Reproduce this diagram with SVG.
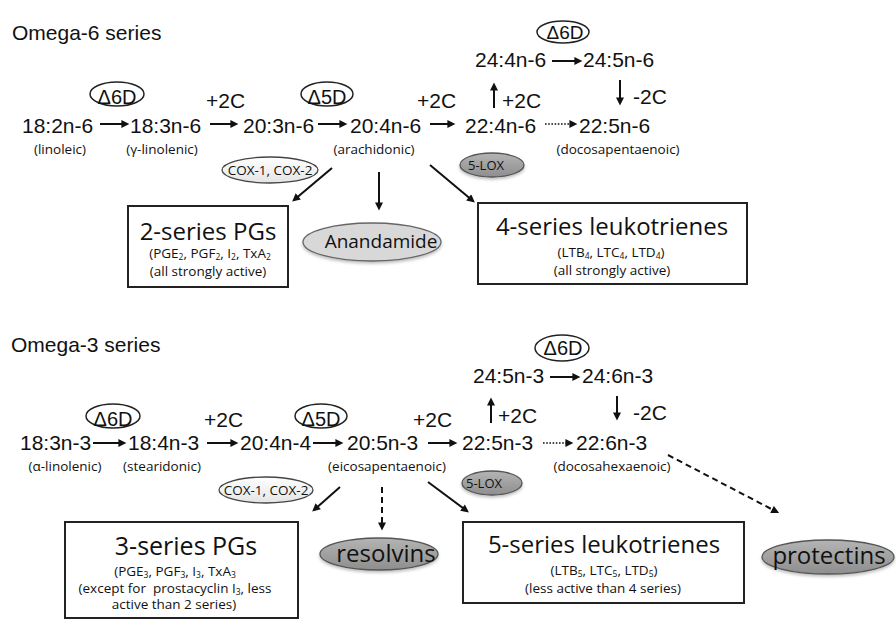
<svg xmlns="http://www.w3.org/2000/svg" width="896" height="622" viewBox="0 0 896 622">
<style>
.big{font-family:"Liberation Sans",Arial,sans-serif;font-size:21px;fill:#111}
.dl{font-family:"Liberation Sans",Arial,sans-serif;font-size:20px;fill:#111;text-anchor:middle}
.ttl{font-family:"Liberation Sans",Arial,sans-serif;font-size:21px;fill:#111}
.sm{font-family:"Open Sans",sans-serif;font-size:13.5px;fill:#111;text-anchor:middle}
.hd{font-family:"Open Sans",sans-serif;font-size:24px;fill:#111;text-anchor:middle}
.s{font-size:8.5px}
.ln{stroke:#111;stroke-width:2;fill:none}
.dot{stroke:#111;stroke-width:1.6;fill:none;stroke-dasharray:1.6 1.6}
.dash{stroke:#111;stroke-width:2;fill:none;stroke-dasharray:6 4}
.box{fill:#fff;stroke:#222;stroke-width:2}
.delta{fill:#fff;stroke:#222;stroke-width:1.5}
.cox{fill:url(#gl);stroke:#444;stroke-width:1.3}
.grey{fill:url(#gd);stroke:#555;stroke-width:1.3;filter:url(#sh)}
.lgrey{fill:#d8d8d8;stroke:#666;stroke-width:1.3;filter:url(#sh)}
</style>
<defs>
<marker id="ah" viewBox="0 0 10 10" markerUnits="userSpaceOnUse" markerWidth="9" markerHeight="8" refX="7" refY="5" orient="auto">
<path d="M0,0 L10,5 L0,10 z" fill="#111"/>
</marker>
<linearGradient id="gl" x1="0" y1="0" x2="0" y2="1"><stop offset="0" stop-color="#ffffff"/><stop offset="1" stop-color="#e4e4e4"/></linearGradient>
<linearGradient id="gd" x1="0" y1="0" x2="0" y2="1"><stop offset="0" stop-color="#b4b4b4"/><stop offset="1" stop-color="#8e8e8e"/></linearGradient>
<filter id="sh" x="-20%" y="-30%" width="140%" height="170%"><feDropShadow dx="0" dy="2" stdDeviation="1.5" flood-color="#000" flood-opacity="0.25"/></filter>
</defs>
<rect width="896" height="622" fill="#fff"/>

<text class="ttl" x="12" y="40">Omega-6 series</text>
<text class="ttl" x="11" y="352">Omega-3 series</text>

<g id="connectors">
<line class="ln" x1="100" y1="124" x2="127" y2="124" marker-end="url(#ah)"/>
<line class="ln" x1="210" y1="124" x2="236" y2="124" marker-end="url(#ah)"/>
<line class="ln" x1="318" y1="124" x2="345" y2="124" marker-end="url(#ah)"/>
<line class="ln" x1="430" y1="124" x2="453" y2="124" marker-end="url(#ah)"/>
<line class="dot" x1="545" y1="124" x2="575" y2="124" marker-end="url(#ah)"/>
<line class="ln" x1="552" y1="61" x2="580" y2="61" marker-end="url(#ah)"/>
<line class="ln" x1="494" y1="108" x2="494" y2="85" marker-end="url(#ah)"/>
<line class="ln" x1="620" y1="80" x2="620" y2="103" marker-end="url(#ah)"/>
<line class="ln" x1="332" y1="168" x2="294" y2="200" marker-end="url(#ah)"/>
<line class="ln" x1="379" y1="172" x2="379" y2="208" marker-end="url(#ah)"/>
<line class="ln" x1="430" y1="165" x2="473" y2="201" marker-end="url(#ah)"/>
<line class="ln" x1="93" y1="443" x2="124" y2="443" marker-end="url(#ah)"/>
<line class="ln" x1="207" y1="443" x2="236" y2="443" marker-end="url(#ah)"/>
<line class="ln" x1="313" y1="443" x2="341" y2="443" marker-end="url(#ah)"/>
<line class="ln" x1="428" y1="443" x2="455" y2="443" marker-end="url(#ah)"/>
<line class="dot" x1="543" y1="443" x2="571" y2="443" marker-end="url(#ah)"/>
<line class="ln" x1="550" y1="377" x2="578" y2="377" marker-end="url(#ah)"/>
<line class="ln" x1="491" y1="423" x2="491" y2="400" marker-end="url(#ah)"/>
<line class="ln" x1="617" y1="396" x2="617" y2="418" marker-end="url(#ah)"/>
<line class="ln" x1="340" y1="487" x2="314" y2="510" marker-end="url(#ah)"/>
<line class="dash" x1="382" y1="487" x2="382" y2="528" marker-end="url(#ah)"/>
<line class="ln" x1="428" y1="482" x2="467" y2="511" marker-end="url(#ah)"/>
<line class="dash" x1="668" y1="455" x2="777" y2="512" marker-end="url(#ah)"/>
</g>

<g id="o6-labels">
<text class="big" x="417" y="108">+2C</text>
<text class="big" x="206" y="108">+2C</text>
<text class="big" x="502" y="108">+2C</text>
<text class="big" x="633" y="104">-2C</text>
</g>
<g id="o6-d6d"><ellipse class="delta" cx="117" cy="94" rx="27" ry="12"/><text class="dl" x="117" y="104">Δ6D</text></g>
<g id="o6-d5d"><ellipse class="delta" cx="327" cy="94" rx="26" ry="12"/><text class="dl" x="327" y="104">Δ5D</text></g>
<g id="o6-d6d-top"><ellipse class="delta" cx="563" cy="32" rx="26" ry="11"/><text class="dl" x="565" y="39" style="font-size:19px">Δ6D</text></g>
<g id="n-18-2n6"><text class="big" x="22" y="133">18:2n-6</text><text class="sm" x="60" y="154">(linoleic)</text></g>
<g id="n-18-3n6"><text class="big" x="130" y="133">18:3n-6</text><text class="sm" x="162" y="154">(γ-linolenic)</text></g>
<g id="n-20-3n6"><text class="big" x="243" y="133">20:3n-6</text></g>
<g id="n-20-4n6"><text class="big" x="350" y="133">20:4n-6</text><text class="sm" x="374" y="154">(arachidonic)</text></g>
<g id="n-22-4n6"><text class="big" x="465" y="133">22:4n-6</text></g>
<g id="n-22-5n6"><text class="big" x="579" y="133">22:5n-6</text><text class="sm" x="618" y="154">(docosapentaenoic)</text></g>
<g id="n-24-4n6"><text class="big" x="475" y="67">24:4n-6</text></g>
<g id="n-24-5n6"><text class="big" x="583" y="67">24:5n-6</text></g>
<g id="o6-cox"><ellipse class="cox" cx="270" cy="170" rx="48" ry="13"/><text class="sm" x="270" y="175">COX-1, COX-2</text></g>
<g id="o6-lox"><ellipse class="grey" cx="492" cy="165" rx="32" ry="12"/><text class="sm" x="486" y="170" style="font-size:13px">5-LOX</text></g>
<g id="o6-pgs"><rect class="box" x="128" y="206" width="160" height="81"/>
<text class="hd" x="208" y="240">2-series PGs</text>
<text class="sm" x="210" y="258">(PGE<tspan class="s" dy="2">2</tspan><tspan dy="-2">, PGF</tspan><tspan class="s" dy="2">2</tspan><tspan dy="-2">, I</tspan><tspan class="s" dy="2">2</tspan><tspan dy="-2">, TxA</tspan><tspan class="s" dy="2">2</tspan></text>
<text class="sm" x="208" y="276">(all strongly active)</text></g>
<g id="o6-anandamide"><ellipse class="lgrey" cx="372" cy="242" rx="69" ry="19"/><text class="hd" x="381" y="248" style="font-size:19px">Anandamide</text></g>
<g id="o6-lts"><rect class="box" x="478" y="203" width="269" height="81"/>
<text class="hd" x="612" y="235">4-series leukotrienes</text>
<text class="sm" x="611" y="257">(LTB<tspan class="s" dy="2">4</tspan><tspan dy="-2">, LTC</tspan><tspan class="s" dy="2">4</tspan><tspan dy="-2">, LTD</tspan><tspan class="s" dy="2">4</tspan><tspan dy="-2">)</tspan></text>
<text class="sm" x="612" y="275">(all strongly active)</text></g>

<g id="o3-labels">
<text class="big" x="413" y="427">+2C</text>
<text class="big" x="204" y="427">+2C</text>
<text class="big" x="498" y="423">+2C</text>
<text class="big" x="633" y="420">-2C</text>
</g>
<g id="o3-d6d"><ellipse class="delta" cx="113" cy="416" rx="27" ry="12"/><text class="dl" x="113" y="426">Δ6D</text></g>
<g id="o3-d5d"><ellipse class="delta" cx="321" cy="416" rx="26" ry="12"/><text class="dl" x="321" y="426">Δ5D</text></g>
<g id="o3-d6d-top"><ellipse class="delta" cx="562" cy="348" rx="27" ry="13"/><text class="dl" x="563" y="355">Δ6D</text></g>
<g id="n-18-3n3"><text class="big" x="20" y="450">18:3n-3</text><text class="sm" x="65" y="471">(α-linolenic)</text></g>
<g id="n-18-4n3"><text class="big" x="128" y="450">18:4n-3</text><text class="sm" x="162" y="471">(stearidonic)</text></g>
<g id="n-20-4n4"><text class="big" x="240" y="450">20:4n-4</text></g>
<g id="n-20-5n3"><text class="big" x="347" y="450">20:5n-3</text><text class="sm" x="387" y="471">(eicosapentaenoic)</text></g>
<g id="n-22-5n3"><text class="big" x="462" y="450">22:5n-3</text></g>
<g id="n-22-6n3"><text class="big" x="576" y="450">22:6n-3</text><text class="sm" x="612" y="471">(docosahexaenoic)</text></g>
<g id="n-24-5n3"><text class="big" x="473" y="383">24:5n-3</text></g>
<g id="n-24-6n3"><text class="big" x="582" y="383">24:6n-3</text></g>
<g id="o3-cox"><ellipse class="cox" cx="266" cy="490" rx="47" ry="13"/><text class="sm" x="266" y="495">COX-1, COX-2</text></g>
<g id="o3-lox"><ellipse class="grey" cx="492" cy="483" rx="30" ry="12"/><text class="sm" x="484" y="488" style="font-size:13px">5-LOX</text></g>
<g id="o3-pgs"><rect class="box" x="65" y="522" width="233" height="96"/>
<text class="hd" x="186" y="555" style="font-size:25px">3-series PGs</text>
<text class="sm" x="175" y="576">(PGE<tspan class="s" dy="2">3</tspan><tspan dy="-2">, PGF</tspan><tspan class="s" dy="2">3</tspan><tspan dy="-2">, I</tspan><tspan class="s" dy="2">3</tspan><tspan dy="-2">, TxA</tspan><tspan class="s" dy="2">3</tspan></text>
<text class="sm" x="175" y="593" style="white-space:pre">(except for  prostacyclin I<tspan class="s" dy="2">3</tspan><tspan dy="-2">, less</tspan></text>
<text class="sm" x="174" y="609">active than 2 series)</text></g>
<g id="o3-resolvins"><ellipse class="grey" cx="379" cy="554" rx="59" ry="16"/><text class="hd" x="386" y="562">resolvins</text></g>
<g id="o3-lts"><rect class="box" x="463" y="522" width="281" height="81"/>
<text class="hd" x="604" y="553">5-series leukotrienes</text>
<text class="sm" x="604" y="575">(LTB<tspan class="s" dy="2">5</tspan><tspan dy="-2">, LTC</tspan><tspan class="s" dy="2">5</tspan><tspan dy="-2">, LTD</tspan><tspan class="s" dy="2">5</tspan><tspan dy="-2">)</tspan></text>
<text class="sm" x="603" y="593">(less active than 4 series)</text></g>
<g id="o3-protectins"><ellipse class="grey" cx="828" cy="557" rx="66" ry="17"/><text class="hd" x="829" y="564">protectins</text></g>
</svg>
